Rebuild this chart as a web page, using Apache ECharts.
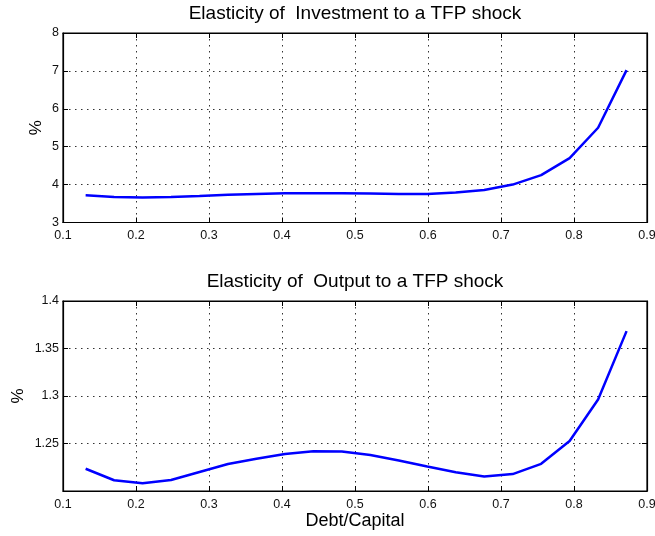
<!DOCTYPE html>
<html>
<head>
<meta charset="utf-8">
<title>Elasticity to a TFP shock</title>
<script src="https://cdn.jsdelivr.net/npm/echarts@6/dist/echarts.min.js"></script>
<style>
  html, body { margin: 0; padding: 0; background: #fff; }
  #chart { width: 655px; height: 536px; }
</style>
</head>
<body>
<div id="chart"></div>
<script>
// debt/capital grid (x) shared by both panels
const debtCapital = [0.131, 0.170, 0.209, 0.248, 0.287, 0.326, 0.365, 0.404, 0.443, 0.482,
                     0.521, 0.560, 0.599, 0.638, 0.677, 0.716, 0.755, 0.794, 0.833, 0.872];
// elasticity of investment, %
const investElasticity = [3.72, 3.675, 3.66, 3.675, 3.70, 3.73, 3.755, 3.77, 3.775, 3.77,
                          3.765, 3.755, 3.755, 3.79, 3.86, 4.00, 4.25, 4.70, 5.50, 7.02];
// elasticity of output, %
const outputElasticity = [1.2234, 1.2113, 1.2082, 1.2115, 1.2200, 1.2284, 1.2340, 1.2390, 1.2418, 1.2415,
                          1.2380, 1.2322, 1.2258, 1.2197, 1.2153, 1.2178, 1.2286, 1.2527, 1.2964, 1.3683];

const titles = ['Elasticity of  Investment to a TFP shock', 'Elasticity of  Output to a TFP shock'];
const xRange = [0.1, 0.9, 0.1];
const yRangeTop = [3, 8, 1];
const yRangeBottom = [1.2, 1.4, 0.05];

const font = '"Liberation Sans", Arial, Helvetica, sans-serif';
const black = '#000';

let chart = echarts.init(document.getElementById('chart'), null, { renderer: 'canvas' });

function pairs(xs, ys) {
    return xs.map((x, i) => [x, ys[i]]);
}

// main axis (with grid lines and labels)
function mainX(grid, name) {
    return {
        type: 'value', gridIndex: grid, position: 'bottom',
        min: xRange[0], max: xRange[1], interval: xRange[2],
        name: name || '', nameLocation: 'middle', nameGap: 21, nameMoveOverlap: false,
        nameTextStyle: { fontFamily: font, fontSize: 18, color: black },
        axisLine: { onZero: false, lineStyle: { color: black, width: 1.2 } },
        axisTick: { inside: true, length: 5, lineStyle: { color: black } },
        axisLabel: { fontFamily: font, fontSize: 12.5, color: '#111', margin: 7,
                     formatter: v => v.toFixed(1) },
        splitLine: { show: true, lineStyle: { color: '#333', width: 1, type: [1.5, 4.5] } }
    };
}
function mainY(grid, r, gap, fmt) {
    return {
        type: 'value', gridIndex: grid, position: 'left',
        min: r[0], max: r[1], interval: r[2],
        name: '%', nameLocation: 'middle', nameGap: gap, nameMoveOverlap: false,
        nameTextStyle: { fontFamily: font, fontSize: 17, color: black },
        axisLine: { onZero: false, lineStyle: { color: black, width: 1.2 } },
        axisTick: { inside: true, length: 5, lineStyle: { color: black } },
        axisLabel: { fontFamily: font, fontSize: 12.5, color: '#111', margin: 4, formatter: fmt },
        splitLine: { show: true, lineStyle: { color: '#333', width: 1, type: [1.5, 4.5] } }
    };
}
// opposite side: ticks only (box axes)
function sideAxis(grid, r, pos) {
    return {
        type: 'value', gridIndex: grid, position: pos,
        min: r[0], max: r[1], interval: r[2],
        axisLine: { onZero: false, lineStyle: { color: black, width: 1.2 } },
        axisTick: { inside: true, length: 5, lineStyle: { color: black } },
        axisLabel: { show: false },
        splitLine: { show: false }
    };
}

chart.setOption({
    animation: false,
    backgroundColor: '#fff',
    title: [
        { text: titles[0], left: 355, top: 4, textAlign: 'center', padding: 0,
          textStyle: { fontFamily: font, fontSize: 19, fontWeight: 'normal', color: black } },
        { text: titles[1], left: 355, top: 272, textAlign: 'center', padding: 0,
          textStyle: { fontFamily: font, fontSize: 19, fontWeight: 'normal', color: black } }
    ],
    grid: [
        { left: 63, right: 8, top: 33, height: 189.5, outerBoundsMode: 'none',
          show: true, borderColor: black, borderWidth: 1.2 },
        { left: 63, right: 8, top: 301, height: 190, outerBoundsMode: 'none',
          show: true, borderColor: black, borderWidth: 1.2 }
    ],
    xAxis: [
        mainX(0),
        sideAxis(0, xRange, 'top'),
        mainX(1, 'Debt/Capital'),
        sideAxis(1, xRange, 'top')
    ],
    yAxis: [
        mainY(0, yRangeTop, 18, v => String(v)),
        sideAxis(0, yRangeTop, 'right'),
        mainY(1, yRangeBottom, 36, v => (Math.abs(v - 1.2) < 1e-9 ? '' : String(+v.toFixed(2)))),
        sideAxis(1, yRangeBottom, 'right')
    ],
    series: [
        {
            name: 'Investment', type: 'line', xAxisIndex: 0, yAxisIndex: 0,
            data: pairs(debtCapital, investElasticity),
            showSymbol: false, symbol: 'none',
            lineStyle: { color: '#0000ff', width: 2.5 }
        },
        {
            name: 'Output', type: 'line', xAxisIndex: 2, yAxisIndex: 2,
            data: pairs(debtCapital, outputElasticity),
            showSymbol: false, symbol: 'none',
            lineStyle: { color: '#0000ff', width: 2.5 }
        }
    ]
});
</script>
</body>
</html>
